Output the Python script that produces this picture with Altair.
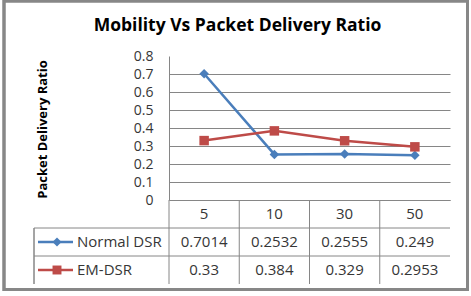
import altair as alt
import pandas as pd

# ---- data -------------------------------------------------------------
categories = ["5", "10", "30", "50"]
series_names = ["Normal DSR", "EM-DSR"]
normal_dsr = [0.7014, 0.2532, 0.2555, 0.249]
em_dsr = [0.33, 0.384, 0.329, 0.2953]
y_ticks = [0, 0.1, 0.2, 0.3, 0.4, 0.5, 0.6, 0.7, 0.8]
series_colors = ["#4A7EBB", "#BE4B48"]
series_shapes = ["diamond", "square"]

# ---- layout (pixels) --------------------------------------------------
W, H = 281, 144            # plot area
PAD_L, PAD_T = 169, 56
ROW_H = 28                 # data-table row height
TABLE_BOTTOM = H + 3 * ROW_H
KEY_COL = 135              # width of the legend-key column left of the plot
FONT = "Open Sans"
GRID = "#868686"
TEXT = "#363636"
TABLE_FS = 15

values = pd.DataFrame({
    "cat": categories * 2,
    "series": [series_names[0]] * 4 + [series_names[1]] * 4,
    "value": normal_dsr + em_dsr,
})
values["label"] = values["value"].astype(str)

header = pd.DataFrame({"cat": categories, "row": "header"})
rows = pd.DataFrame({"row": series_names})

x_scale = alt.Scale(type="band", domain=categories, paddingInner=0, paddingOuter=0)
y_scale = alt.Scale(domain=[0, 0.8], nice=False, zero=True)
row_scale = alt.Scale(type="band", domain=["header"] + series_names,
                      range=[H, TABLE_BOTTOM], paddingInner=0, paddingOuter=0)
color_scale = alt.Scale(domain=series_names, range=series_colors)
shape_scale = alt.Scale(domain=series_names, range=series_shapes)

base = alt.Chart(values)

lines = base.mark_line(strokeWidth=2.5).encode(
    x=alt.X("cat:N", scale=x_scale, bandPosition=0.5,
            axis=alt.Axis(labels=False, ticks=False, domain=True, grid=False,
                          domainColor=GRID, title=None)),
    y=alt.Y("value:Q", scale=y_scale,
            axis=alt.Axis(values=y_ticks, format=".1~f", ticks=False,
                          domainColor=GRID, gridColor=GRID,
                          gridOpacity={"condition": {"test": "datum.value > 0.75", "value": 0}, "value": 1},
                          labelFont=FONT, labelFontSize=14, labelColor=TEXT,
                          labelPadding=16,
                          title="Packet Delivery Ratio", titleFont=FONT,
                          titleFontSize=13, titleFontWeight="bold",
                          titleColor="#000000", titleAngle=270,
                          titleX=-127, titleY=H / 2 + 1, titleAlign="center",
                          titleBaseline="middle")),
    color=alt.Color("series:N", scale=color_scale, legend=None),
    detail="series:N",
)

points = base.mark_point(filled=True, size=90, opacity=1).encode(
    x=alt.X("cat:N", scale=x_scale, bandPosition=0.5),
    y=alt.Y("value:Q", scale=y_scale, axis=None),
    color=alt.Color("series:N", scale=color_scale, legend=None),
    shape=alt.Shape("series:N", scale=shape_scale, legend=None),
)

# ---- data table below the plot ---------------------------------------
header_text = alt.Chart(header).mark_text(font=FONT, fontSize=TABLE_FS, color=TEXT).encode(
    x=alt.X("cat:N", scale=x_scale, bandPosition=0.5),
    y=alt.Y("row:N", scale=row_scale, bandPosition=0.5, axis=None),
    text="cat:N",
)

cell_text = base.mark_text(font=FONT, fontSize=TABLE_FS, color=TEXT).encode(
    x=alt.X("cat:N", scale=x_scale, bandPosition=0.5),
    y=alt.Y("series:N", scale=row_scale, bandPosition=0.5, axis=None),
    text="label:N",
)

row_lines = alt.Chart(rows).mark_rule(color=GRID, strokeWidth=1).encode(
    y=alt.Y("row:N", scale=row_scale, bandPosition=0, axis=None),
    x=alt.value(-KEY_COL),
    x2=alt.value(W),
)

col_lines = alt.Chart(header).mark_rule(color=GRID, strokeWidth=1).encode(
    x=alt.X("cat:N", scale=x_scale, bandPosition=0),
    y=alt.value(H),
    y2=alt.value(TABLE_BOTTOM),
)

key_border = alt.Chart(rows).mark_rule(color=GRID, strokeWidth=1).encode(
    x=alt.value(-KEY_COL),
    y=alt.value(H + ROW_H),
    y2=alt.value(TABLE_BOTTOM),
)

key_lines = alt.Chart(rows).mark_rule(strokeWidth=2.5).encode(
    y=alt.Y("row:N", scale=row_scale, bandPosition=0.5, axis=None),
    x=alt.value(-KEY_COL + 4),
    x2=alt.value(-96),
    color=alt.Color("row:N", scale=color_scale, legend=None),
)

key_marks = alt.Chart(rows).mark_point(filled=True, size=80, opacity=1).encode(
    y=alt.Y("row:N", scale=row_scale, bandPosition=0.5, axis=None),
    x=alt.value(-112),
    color=alt.Color("row:N", scale=color_scale, legend=None),
    shape=alt.Shape("row:N", scale=shape_scale, legend=None),
)

key_labels = alt.Chart(rows).mark_text(font=FONT, fontSize=TABLE_FS, color=TEXT,
                                        align="left").encode(
    y=alt.Y("row:N", scale=row_scale, bandPosition=0.5, axis=None),
    x=alt.value(-92),
    text="row:N",
)

# outer chart frame
frame = alt.Chart(rows).mark_rect(filled=False, stroke="#878787", strokeWidth=3).encode(
    x=alt.value(-PAD_L + 4),
    x2=alt.value(467.5 - PAD_L),
    y=alt.value(-PAD_T + 1),
    y2=alt.value(289.5 - PAD_T),
)

chart = alt.layer(
    lines, points, header_text, cell_text, row_lines, col_lines, key_border,
    key_lines, key_marks, key_labels, frame,
).resolve_scale(
    y="independent", color="independent", shape="independent"
).properties(
    width=W,
    height=H,
    autosize=alt.AutoSizeParams(type="none"),
    padding={"left": PAD_L, "top": PAD_T, "right": 471 - PAD_L - W, "bottom": 296 - PAD_T - H},
    background="white",
    title=alt.Title("Mobility Vs Packet Delivery Ratio", font=FONT, fontSize=17.5,
                    fontWeight="bold", color="#000000", anchor="middle",
                    dx=-72, dy=49, offset=14),
).configure_view(stroke=None)

chart.save("out.html", embed_options={"renderer": "svg", "actions": False})
